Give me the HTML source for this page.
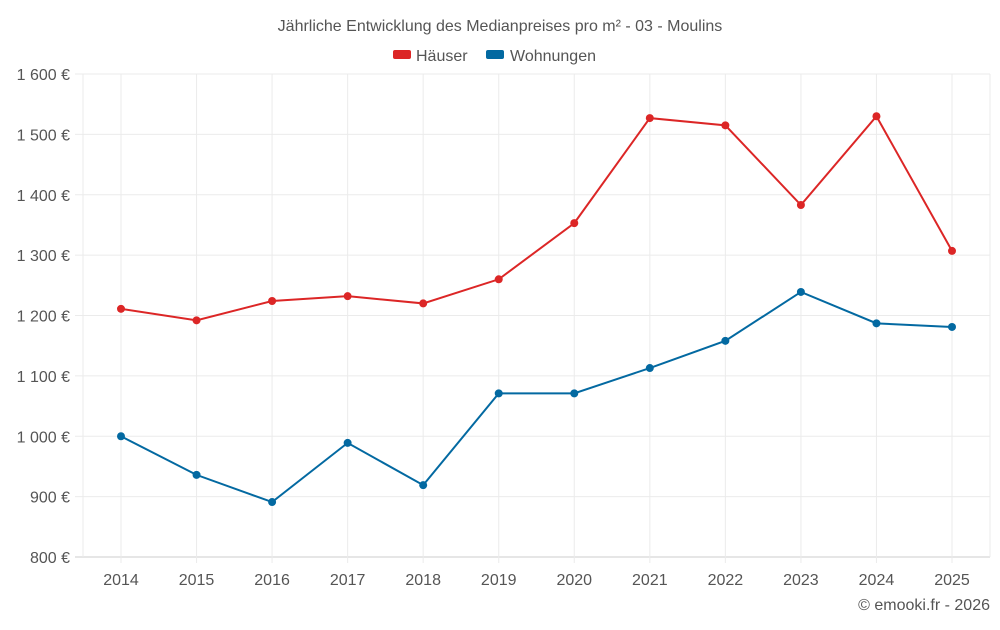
<!DOCTYPE html>
<html><head><meta charset="utf-8"><style>
body{margin:0;background:#fff;font-family:"Liberation Sans",sans-serif;}
svg text{font-family:"Liberation Sans",sans-serif;}
</style></head><body>
<svg id="chart" width="1000" height="625">
<text x="500" y="31" text-anchor="middle" font-size="16" fill="#555">Jährliche Entwicklung des Medianpreises pro m² - 03 - Moulins</text>
<g>
<g><rect x="393" y="50" width="18" height="9" rx="2" fill="#dc2626"/><text x="416" y="61" font-size="16" fill="#555">Häuser</text></g>
<g><rect x="486" y="50" width="18" height="9" rx="2" fill="#0369a1"/><text x="510" y="61" font-size="16" fill="#555">Wohnungen</text></g>
</g>
<g id="grid"></g><g id="axes"></g><g id="series"></g>
<text x="990" y="610" text-anchor="end" font-size="16" fill="#555">© emooki.fr - 2026</text>
</svg>
<script>
const years=[2014,2015,2016,2017,2018,2019,2020,2021,2022,2023,2024,2025];
const haeuser=[1211,1192,1224,1232,1220,1260,1353,1527,1515,1383,1530,1307];
const wohnungen=[1000,936,891,989,919,1071,1071,1113,1158,1239,1187,1181];
const yTicks=[800,900,1000,1100,1200,1300,1400,1500,1600];
const yTickLabels=["800 €","900 €","1 000 €","1 100 €","1 200 €","1 300 €","1 400 €","1 500 €","1 600 €"];
const NS="http://www.w3.org/2000/svg";
const L=83,R=990,T=74,B=557;
const x=i=>121+i*(952-121)/(years.length-1);
const y=v=>B-(v-800)/(800)*(B-T);
function mk(tag,attrs,parent){const e=document.createElementNS(NS,tag);for(const k in attrs)e.setAttribute(k,attrs[k]);parent.appendChild(e);return e;}
const grid=document.getElementById('grid'),axes=document.getElementById('axes'),ser=document.getElementById('series');
yTicks.forEach((t,i)=>{
  const l=mk('line',{x1:75,x2:R,y1:y(t),y2:y(t),stroke:i==0?'#ccc':'#ebebeb'},grid);
  
  
  const tx=mk('text',{x:70,y:y(t)+6,'text-anchor':'end','font-size':16,fill:'#555'},axes);
  tx.textContent=yTickLabels[i];
  
  
});
years.forEach((yr,i)=>{
  const l=mk('line',{x1:x(i),x2:x(i),y1:T,y2:B+6,stroke:'#ebebeb'},grid);
  
  
  const tx=mk('text',{x:x(i),y:585,'text-anchor':'middle','font-size':16,fill:'#555'},axes);
  tx.textContent=yr;
  
  
});
mk('line',{x1:L,x2:L,y1:T,y2:B,stroke:'#ebebeb'},grid);
mk('line',{x1:R,x2:R,y1:T,y2:B,stroke:'#ebebeb'},grid);
function draw(vals,color,name){
  const p=mk('polyline',{points:vals.map((v,i)=>x(i)+','+y(v)).join(' '),fill:'none',stroke:color,'stroke-width':2},ser);
  
  
  vals.forEach((v,i)=>{
    const c=mk('circle',{cx:x(i),cy:y(v),r:4,fill:color},ser);
    
    
  });
}
draw(haeuser,'#dc2626','haeuser');
draw(wohnungen,'#0369a1','wohnungen');
</script>
</body></html>
